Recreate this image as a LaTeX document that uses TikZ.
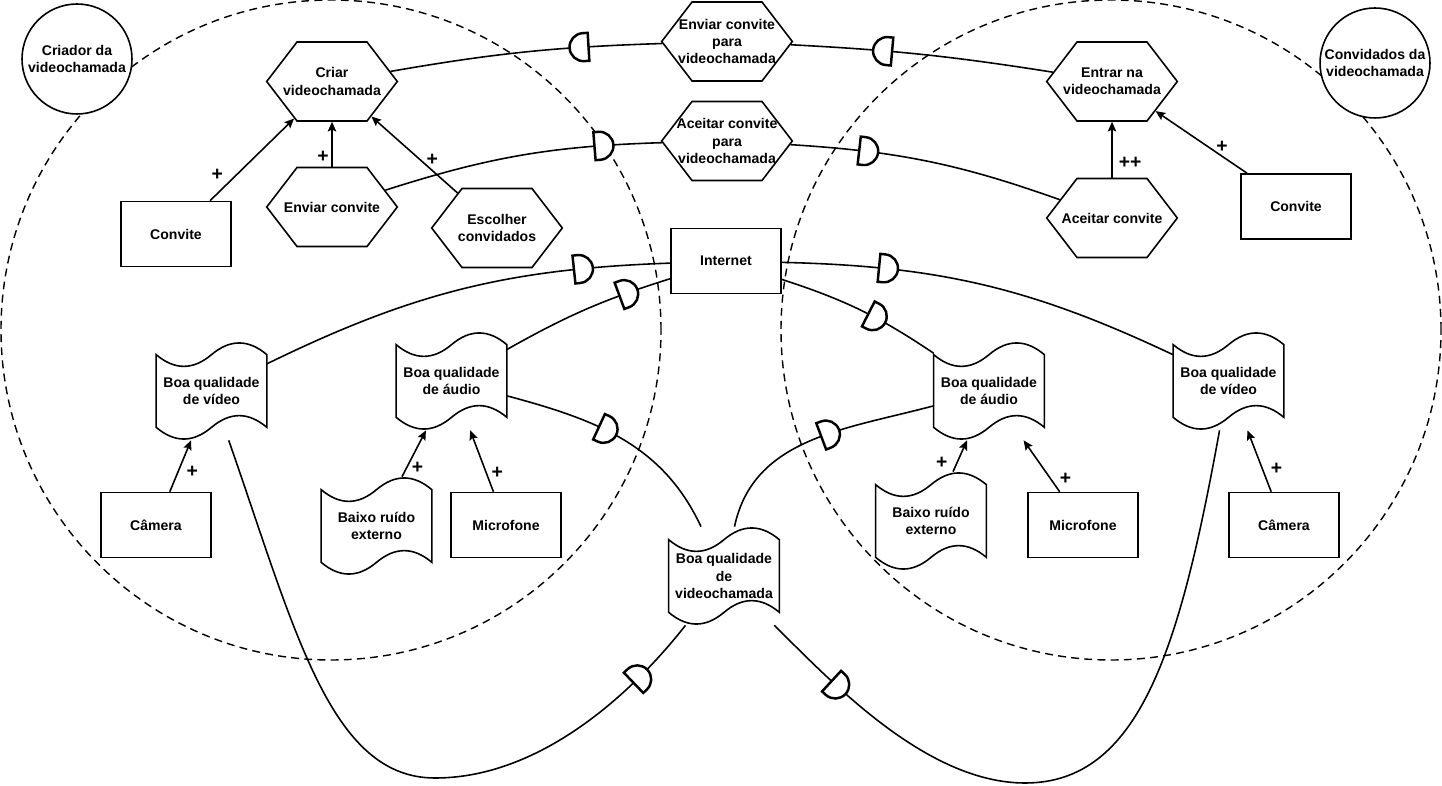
\documentclass[tikz,border=0pt]{standalone}
\usepackage{fontspec}
\setmainfont{Liberation Sans}
\usetikzlibrary{arrows.meta,calc,shapes.symbols,decorations.markings}

% D of a dependency link, round side forward / backward along the path
\newcommand\depfwd{\draw[dsym] (0,-14) -- (0,14) -- (5,14) arc[start angle=90,end angle=-90,radius=14] -- cycle;}
\newcommand\depback{\draw[dsym] (0,-14) -- (0,14) -- (-5,14) arc[start angle=90,end angle=270,radius=14] -- cycle;}
% wavy outline round a tape node
\newcommand\tapeoutline[1]{%
  \draw[tapeline] ($(#1.north west)+(0,-13)$)
    .. controls +(18.5,-15.6) and +(-18.5,-15.6) .. ($(#1.north)+(0,-13)$)
    .. controls +(18.5,15.6) and +(-18.5,15.6) .. ($(#1.north east)+(0,-13)$)
    -- ($(#1.south east)+(0,13)$)
    .. controls +(-18.5,15.6) and +(18.5,15.6) .. ($(#1.south)+(0,13)$)
    .. controls +(-18.5,-15.6) and +(18.5,-15.6) .. ($(#1.south west)+(0,13)$)
    -- cycle;}

\begin{document}
\begin{tikzpicture}[
    x=0.02cm, y=0.02cm,
    font=\fontsize{8}{9.7}\selectfont\bfseries,
    >=Stealth
  ]

  \tikzset{
    goal/.style={signal, signal to=east and west, signal pointer angle=105, draw, fill=white, line width=0.9pt,
      inner xsep=0.7cm, inner ysep=0.79cm, minimum width=0pt, minimum height=0pt,
      label={[align=center]center:#1}},
    res/.style={rectangle, draw, fill=white, line width=0.9pt, minimum width=2.2cm, minimum height=1.3cm, align=center},
    tape/.style={rectangle, minimum width=2.2cm, minimum height=1.96cm, inner sep=0pt, align=center},
    tapeline/.style={line width=0.9pt},
    actor/.style={circle, draw, fill=white, line width=0.9pt, minimum size=2.2cm, inner sep=0pt, align=center},
    bound/.style={line width=0.8pt, dash pattern=on 4.5pt off 3pt},
    contrib/.style={-{Stealth[length=5.5pt,width=4.8pt,inset=1pt]}, line width=0.9pt},
    plus/.style={font=\fontsize{11}{12}\selectfont\bfseries, inner sep=1pt},
    dep/.style={line width=0.9pt},
    dsym/.style={line width=1.4pt, fill=white},
    dfwd/.style={postaction={decorate}, decoration={markings, mark=at position #1 with {\depfwd}}},
    dback/.style={postaction={decorate}, decoration={markings, mark=at position #1 with {\depback}}}
  }

  \useasboundingbox (0,0) rectangle (1442,-786);

  % actor boundaries
  \draw[bound] (331,-330) circle[radius=330];
  \draw[bound] (1111,-330) circle[radius=330];

  % actors
  \node (criador)    [actor] at (77,-59)   {Criador da\\videochamada};
  \node (convidados) [actor] at (1375,-63) {Convidados da\\videochamada};

  % creator side
  \node (criar)    [goal={Criar\\videochamada}] at (332,-81.5) {};
  \node (enviar)   [goal={Enviar convite}]      at (332,-207)  {};
  \node (escolher) [goal={Escolher\\convidados}] at (497,-228) {};
  \node (conviteA) [res] at (176,-234) {Convite};
  \node (videoA)   [tape] at (211.5,-391) {Boa qualidade\\de vídeo};
  \node (audioA)   [tape] at (451.5,-381) {Boa qualidade\\de áudio};
  \node (ruidoA)   [tape] at (376.5,-526) {Baixo ruído\\externo};
  \node (cameraA)  [res] at (156,-525) {Câmera};
  \node (microA)   [res] at (506,-525) {Microfone};

  % dependums
  \node (envpara)   [goal={Enviar convite\\para\\videochamada}]  at (727,-41.5) {};
  \node (aceitpara) [goal={Aceitar convite\\para\\videochamada}] at (727,-141)  {};
  \node (internet)  [res] at (726,-261) {Internet};
  \node (chamada)   [tape] at (724,-576) {Boa qualidade\\de\\videochamada};

  % guest side
  \node (entrar)   [goal={Entrar na\\videochamada}] at (1112,-81.5) {};
  \node (aceitar)  [goal={Aceitar convite}]         at (1112,-218)  {};
  \node (conviteB) [res] at (1296,-206.5) {Convite};
  \node (audioB)   [tape] at (989,-391) {Boa qualidade\\de áudio};
  \node (ruidoB)   [tape] at (931,-521) {Baixo ruído\\externo};
  \node (videoB)   [tape] at (1228.5,-381) {Boa qualidade\\de vídeo};
  \node (microB)   [res] at (1083,-525) {Microfone};
  \node (cameraB)  [res] at (1284,-525) {Câmera};

  \foreach \t in {videoA,audioA,ruidoA,chamada,audioB,ruidoB,videoB}
    \tapeoutline{\t};

  % contributions
  \draw[contrib] (conviteA) -- node[plus, pos=0.31, left=6pt] {+} (criar);
  \draw[contrib] (enviar) -- node[plus, pos=0.22, left=0.5pt] {+} (criar);
  \draw[contrib] (escolher) -- node[plus, pos=0.43, right=2pt] {+} (criar);
  \draw[contrib] (aceitar) -- node[plus, pos=0.26, right=2.5pt] {++} (entrar);
  \draw[contrib] (conviteB) -- node[plus, pos=0.43, right=3.5pt] {+} (entrar);
  \draw[contrib] (cameraA) -- node[plus, pos=0.38, right=3.5pt] {+} (videoA);
  \draw[contrib] (ruidoA) -- node[plus, pos=0.19, right=1.5pt] {+} (audioA);
  \draw[contrib] (microA) -- node[plus, pos=0.3, right=1.5pt] {+} (audioA);
  \draw[contrib] (ruidoB) -- node[plus, pos=0.28, left=4pt] {+} (audioB);
  \draw[contrib] (microB) -- node[plus, pos=0.26, right=4pt] {+} (audioB);
  \draw[contrib] (cameraB) -- node[plus, pos=0.38, right=3.5pt] {+} (videoB);

  % dependencies
  \draw[dep, dback=0.73] (criar) to[bend left=4] (envpara);
  \draw[dep, dback=0.385] (envpara) to[bend left=3] (entrar);
  \draw[dep, dfwd=0.76] (enviar) to[bend left=8] (aceitpara);
  \draw[dep, dfwd=0.25] (aceitpara) to[bend left=8] (aceitar);
  \draw[dep, dfwd=0.77] (videoA) to[bend left=12] (internet);
  \draw[dep, dfwd=0.7] (audioA) to[bend left=6] (internet);
  \draw[dep, dfwd=0.24] (internet) to[bend left=12] (videoB);
  \draw[dep, dfwd=0.55] (internet) to[bend left=8] (audioB);
  \draw[dep, dfwd=0.4] (audioA) to[out=-15, in=115] (chamada);
  \draw[dep, dback=0.47] (audioB) to[out=195, in=78] (chamada);
  \draw[dep, dfwd=-1.55cm] (videoA) .. controls (295,-630) and (330,-778) .. (435,-778)
    .. controls (545,-778) and (638,-686) .. (chamada);
  \draw[dep, dback=-1.6cm] (videoB) .. controls (1180,-648) and (1140,-783) .. (1025,-783)
    .. controls (925,-783) and (829,-679) .. (chamada);

\end{tikzpicture}
\end{document}
